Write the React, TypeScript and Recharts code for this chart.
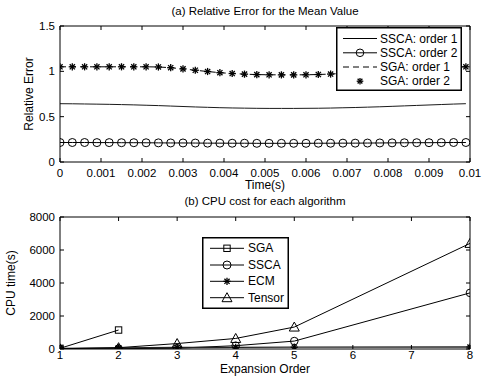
import React from 'react';
import { LineChart, Line, XAxis, YAxis, Legend, ReferenceLine } from 'recharts';

const FONT = '"Liberation Sans", Arial, Helvetica, sans-serif';

// ---------- (a) Relative Error ----------
const timeValues = [
  0, 0.0003, 0.0006, 0.0009, 0.0012, 0.0015, 0.0018, 0.0021, 0.0024, 0.0027,
  0.003, 0.0033, 0.0036, 0.0039, 0.0042, 0.0045, 0.0048, 0.0051, 0.0054, 0.0057,
  0.006, 0.0063, 0.0066, 0.0069, 0.0072, 0.0075, 0.0078, 0.0081, 0.0084, 0.0087,
  0.009, 0.0093, 0.0096, 0.0099,
];
const sscaOrder1 = [
  0.643, 0.642, 0.64, 0.638, 0.636, 0.633, 0.63, 0.626, 0.622, 0.617,
  0.612, 0.607, 0.603, 0.599, 0.596, 0.594, 0.592, 0.591, 0.591, 0.591,
  0.592, 0.593, 0.595, 0.598, 0.601, 0.605, 0.609, 0.614, 0.619, 0.624,
  0.629, 0.634, 0.639, 0.643,
];
const sscaOrder2 = [
  0.215, 0.215, 0.215, 0.214, 0.214, 0.213, 0.213, 0.212, 0.211, 0.21,
  0.21, 0.209, 0.208, 0.208, 0.207, 0.207, 0.206, 0.206, 0.206, 0.206,
  0.206, 0.207, 0.207, 0.208, 0.208, 0.209, 0.21, 0.211, 0.212, 0.213,
  0.213, 0.214, 0.215, 0.215,
];
const sgaOrder1 = [
  1.05, 1.05, 1.05, 1.05, 1.05, 1.05, 1.05, 1.05, 1.048, 1.04,
  1.027, 1.012, 0.998, 0.985, 0.976, 0.969, 0.964, 0.962, 0.961, 0.961,
  0.962, 0.965, 0.97, 0.978, 0.988, 0.998, 1.008, 1.018, 1.027, 1.034,
  1.04, 1.045, 1.048, 1.05,
];
const sgaOrder2 = [
  1.05, 1.05, 1.05, 1.05, 1.05, 1.05, 1.05, 1.05, 1.048, 1.04,
  1.027, 1.012, 0.998, 0.985, 0.976, 0.969, 0.964, 0.962, 0.961, 0.961,
  0.962, 0.965, 0.97, 0.978, 0.988, 0.998, 1.008, 1.018, 1.027, 1.034,
  1.04, 1.045, 1.048, 1.05,
];
const timeTicks = [0, 0.001, 0.002, 0.003, 0.004, 0.005, 0.006, 0.007, 0.008, 0.009, 0.01];
const errorTicks = [0, 0.5, 1, 1.5];

// ---------- (b) CPU cost ----------
const expansionOrders = [1, 2, 3, 4, 5, 8];
const sgaCpu = [40, 1150, null, null, null, null];
const sscaCpu = [5, 20, 50, 200, 480, 3400];
const ecmCpu = [30, 70, 90, 100, 110, 120];
const tensorCpu = [15, 80, 330, 640, 1330, 6400];
const orderTicks = [1, 2, 3, 4, 5, 6, 7, 8];
const cpuTicks = [0, 2000, 4000, 6000, 8000];

const errorData = timeValues.map((t, i) => ({
  t,
  ssca1: sscaOrder1[i],
  ssca2: sscaOrder2[i],
  sga1: sgaOrder1[i],
  sga2: sgaOrder2[i],
}));
const cpuData = expansionOrders.map((o, i) => ({
  order: o,
  sga: sgaCpu[i],
  ssca: sscaCpu[i],
  ecm: ecmCpu[i],
  tensor: tensorCpu[i],
}));

// ---------- geometry ----------
const W = 482;
const A_H = 200;
const A_TOP = 26;
const A_BOTTOM = 162;
const PLOT_LEFT = 60;
const PLOT_RIGHT = 470;
const B_OFFSET = 188;
const B_H = 195;
const B_TOP = 29;
const B_BOTTOM = 161;
const TICK = 4;

// ---------- markers ----------
const isNum = (v: any) => typeof v === 'number' && !isNaN(v);

const StarShape = ({ cx, cy, r = 3.6 }: any) => {
  const d = r * 0.72;
  return (
    <g stroke="#000" strokeWidth={1.3}>
      <line x1={cx - r} y1={cy} x2={cx + r} y2={cy} />
      <line x1={cx} y1={cy - r} x2={cx} y2={cy + r} />
      <line x1={cx - d} y1={cy - d} x2={cx + d} y2={cy + d} />
      <line x1={cx - d} y1={cy + d} x2={cx + d} y2={cy - d} />
    </g>
  );
};
const CircleShape = ({ cx, cy, r = 4 }: any) => (
  <circle cx={cx} cy={cy} r={r} fill="none" stroke="#000" strokeWidth={1} />
);
const SquareShape = ({ cx, cy, s = 3.2 }: any) => (
  <rect x={cx - s} y={cy - s} width={2 * s} height={2 * s} fill="none" stroke="#000" strokeWidth={1} />
);
const TriangleShape = ({ cx, cy, s = 5 }: any) => (
  <polygon
    points={`${cx},${cy - s} ${cx - s},${cy + s * 0.8} ${cx + s},${cy + s * 0.8}`}
    fill="none"
    stroke="#000"
    strokeWidth={1}
  />
);

const mkDot = (Shape: any, extra: any = {}) => (props: any) => {
  const { cx, cy, index, value } = props;
  if (!isNum(cx) || !isNum(cy) || value === null || value === undefined) return <g key={`e${index}`} />;
  return (
    <g key={`d${index}`}>
      <Shape cx={cx} cy={cy} {...extra} />
    </g>
  );
};

// ---------- ticks ----------
const fmtTime = (v: number) => (v === 0 ? '0' : String(v));

const makeXTick = (plotTop: number, labelDy: number, fmt: (v: number) => string) => (props: any) => {
  const { x, y, payload } = props;
  return (
    <g>
      <line x1={x} y1={y} x2={x} y2={y - TICK} stroke="#000" strokeWidth={1} />
      <line x1={x} y1={plotTop} x2={x} y2={plotTop + TICK} stroke="#000" strokeWidth={1} />
      <text x={x} y={y + labelDy} textAnchor="middle" fontSize={11.5} fontFamily={FONT} fill="#000">
        {fmt(payload.value)}
      </text>
    </g>
  );
};
const makeYTick = (fmt: (v: number) => string) => (props: any) => {
  const { x, y, payload } = props;
  return (
    <g>
      <line x1={x} y1={y} x2={x + TICK} y2={y} stroke="#000" strokeWidth={1} />
      <line x1={PLOT_RIGHT} y1={y} x2={PLOT_RIGHT - TICK} y2={y} stroke="#000" strokeWidth={1} />
      <text x={x - 5} y={y + 4} textAnchor="end" fontSize={11.5} fontFamily={FONT} fill="#000">
        {fmt(payload.value)}
      </text>
    </g>
  );
};

// ---------- legends ----------
const legendTextStyle = { fontSize: 12, fontFamily: FONT, fill: '#000' } as any;

const TopLegend = () => {
  const rows = [11.5, 25.8, 40, 54.2];
  return (
    <svg width={126} height={64} style={{ display: 'block' }}>
      <rect x={0.75} y={0.75} width={124.5} height={62.5} fill="#fff" stroke="#000" strokeWidth={1.5} />
      <line x1={7} y1={rows[0]} x2={41} y2={rows[0]} stroke="#000" strokeWidth={1} />
      <text x={44} y={rows[0] + 4} {...legendTextStyle}>SSCA: order 1</text>
      <line x1={7} y1={rows[1]} x2={41} y2={rows[1]} stroke="#000" strokeWidth={1} />
      <CircleShape cx={24} cy={rows[1]} r={3.8} />
      <text x={44} y={rows[1] + 4} {...legendTextStyle}>SSCA: order 2</text>
      <line x1={7} y1={rows[2]} x2={41} y2={rows[2]} stroke="#000" strokeWidth={1} strokeDasharray="6 4" />
      <text x={44} y={rows[2] + 4} {...legendTextStyle}>SGA: order 1</text>
      <StarShape cx={24} cy={rows[3]} r={3.3} />
      <text x={44} y={rows[3] + 4} {...legendTextStyle}>SGA: order 2</text>
    </svg>
  );
};

const BottomLegend = () => {
  const rows = [11.3, 28, 44.3, 60.7];
  const items: [string, any][] = [
    ['SGA', SquareShape],
    ['SSCA', CircleShape],
    ['ECM', StarShape],
    ['Tensor', TriangleShape],
  ];
  return (
    <svg width={87} height={72} style={{ display: 'block' }}>
      <rect x={0.75} y={0.75} width={85.5} height={70.5} fill="#fff" stroke="#000" strokeWidth={1.5} />
      {items.map(([name, Shape], i) => (
        <g key={name}>
          <line x1={8} y1={rows[i]} x2={42} y2={rows[i]} stroke="#000" strokeWidth={1} />
          <Shape cx={25} cy={rows[i]} />
          <text x={46} y={rows[i] + 4} {...legendTextStyle}>{name}</text>
        </g>
      ))}
    </svg>
  );
};

export default function App() {
  return (
    <div style={{ position: 'absolute', left: 0, top: 0, width: W, height: 383, background: '#fff', fontFamily: FONT }}>
      <div style={{ position: 'absolute', left: 0, top: 0 }}>
        <LineChart
          width={W}
          height={A_H}
          data={errorData}
          margin={{ top: A_TOP, right: W - PLOT_RIGHT, bottom: 0, left: 0 }}
        >
          <XAxis
            dataKey="t"
            type="number"
            domain={[0, 0.01]}
            ticks={timeTicks}
            interval={0}
            height={A_H - A_BOTTOM}
            tickSize={0}
            tickMargin={0}
            tickLine={false}
            axisLine={{ stroke: '#000', strokeWidth: 1 }}
            tick={makeXTick(A_TOP, 15, fmtTime)}
            allowDataOverflow
          />
          <YAxis
            type="number"
            domain={[0, 1.5]}
            ticks={errorTicks}
            interval={0}
            width={PLOT_LEFT}
            tickSize={0}
            tickMargin={0}
            tickLine={false}
            axisLine={{ stroke: '#000', strokeWidth: 1 }}
            tick={makeYTick((v) => String(v))}
            allowDataOverflow
          />
          <ReferenceLine y={1.5} stroke="#000" strokeWidth={1} />
          <ReferenceLine x={0.01} stroke="#000" strokeWidth={1} />
          <Line dataKey="ssca1" stroke="#1a1a1a" strokeWidth={1} dot={false} activeDot={false} isAnimationActive={false} />
          <Line dataKey="ssca2" stroke="#000" strokeWidth={1} dot={mkDot(CircleShape)} activeDot={false} isAnimationActive={false} />
          <Line dataKey="sga1" stroke="#000" strokeWidth={1} strokeDasharray="6 4" dot={false} activeDot={false} isAnimationActive={false} />
          <Line dataKey="sga2" stroke="none" dot={mkDot(StarShape)} activeDot={false} isAnimationActive={false} />
          <Legend
            layout="vertical"
            align="center"
            verticalAlign="middle"
            content={() => <TopLegend />}
            wrapperStyle={{ position: 'absolute', left: 336, top: 27, width: 126, height: 64 }}
          />
        </LineChart>
      </div>

      <div style={{ position: 'absolute', left: 0, top: B_OFFSET }}>
        <LineChart
          width={W}
          height={B_H}
          data={cpuData}
          margin={{ top: B_TOP, right: W - PLOT_RIGHT, bottom: 0, left: 0 }}
        >
          <XAxis
            dataKey="order"
            type="number"
            domain={[1, 8]}
            ticks={orderTicks}
            interval={0}
            height={B_H - B_BOTTOM}
            tickSize={0}
            tickMargin={0}
            tickLine={false}
            axisLine={{ stroke: '#000', strokeWidth: 1 }}
            tick={makeXTick(B_TOP, 10, (v) => String(v))}
            allowDataOverflow
          />
          <YAxis
            type="number"
            domain={[0, 8000]}
            ticks={cpuTicks}
            interval={0}
            width={PLOT_LEFT}
            tickSize={0}
            tickMargin={0}
            tickLine={false}
            axisLine={{ stroke: '#000', strokeWidth: 1 }}
            tick={makeYTick((v) => String(v))}
            allowDataOverflow
          />
          <ReferenceLine y={8000} stroke="#000" strokeWidth={1} />
          <ReferenceLine x={8} stroke="#000" strokeWidth={1} />
          <Line dataKey="sga" stroke="#000" strokeWidth={1} dot={mkDot(SquareShape)} activeDot={false} isAnimationActive={false} />
          <Line dataKey="ssca" stroke="#000" strokeWidth={1} dot={mkDot(CircleShape, { r: 3.8 })} activeDot={false} isAnimationActive={false} />
          <Line dataKey="ecm" stroke="#222" strokeWidth={1.3} dot={mkDot(StarShape)} activeDot={false} isAnimationActive={false} />
          <Line dataKey="tensor" stroke="#000" strokeWidth={1} dot={mkDot(TriangleShape)} activeDot={false} isAnimationActive={false} />
          <Legend
            layout="vertical"
            align="center"
            verticalAlign="middle"
            content={() => <BottomLegend />}
            wrapperStyle={{ position: 'absolute', left: 202, top: 237 - B_OFFSET, width: 87, height: 72 }}
          />
        </LineChart>
      </div>

      <svg width={W} height={383} style={{ position: 'absolute', left: 0, top: 0, pointerEvents: 'none' }}>
        <g fontFamily={FONT} fill="#000">
          <text x={265} y={15} textAnchor="middle" fontSize={11.5}>(a) Relative Error for the Mean Value</text>
          <text x={265} y={189} textAnchor="middle" fontSize={12}>Time(s)</text>
          <text x={33} y={94} textAnchor="middle" fontSize={12} transform="rotate(-90 33 94)">Relative Error</text>
          <text x={265} y={205} textAnchor="middle" fontSize={11.5}>(b) CPU cost for each algorithm</text>
          <text x={265} y={373} textAnchor="middle" fontSize={12}>Expansion Order</text>
          <text x={15} y={283} textAnchor="middle" fontSize={12} transform="rotate(-90 15 283)">CPU time(s)</text>
        </g>
      </svg>
    </div>
  );
}
